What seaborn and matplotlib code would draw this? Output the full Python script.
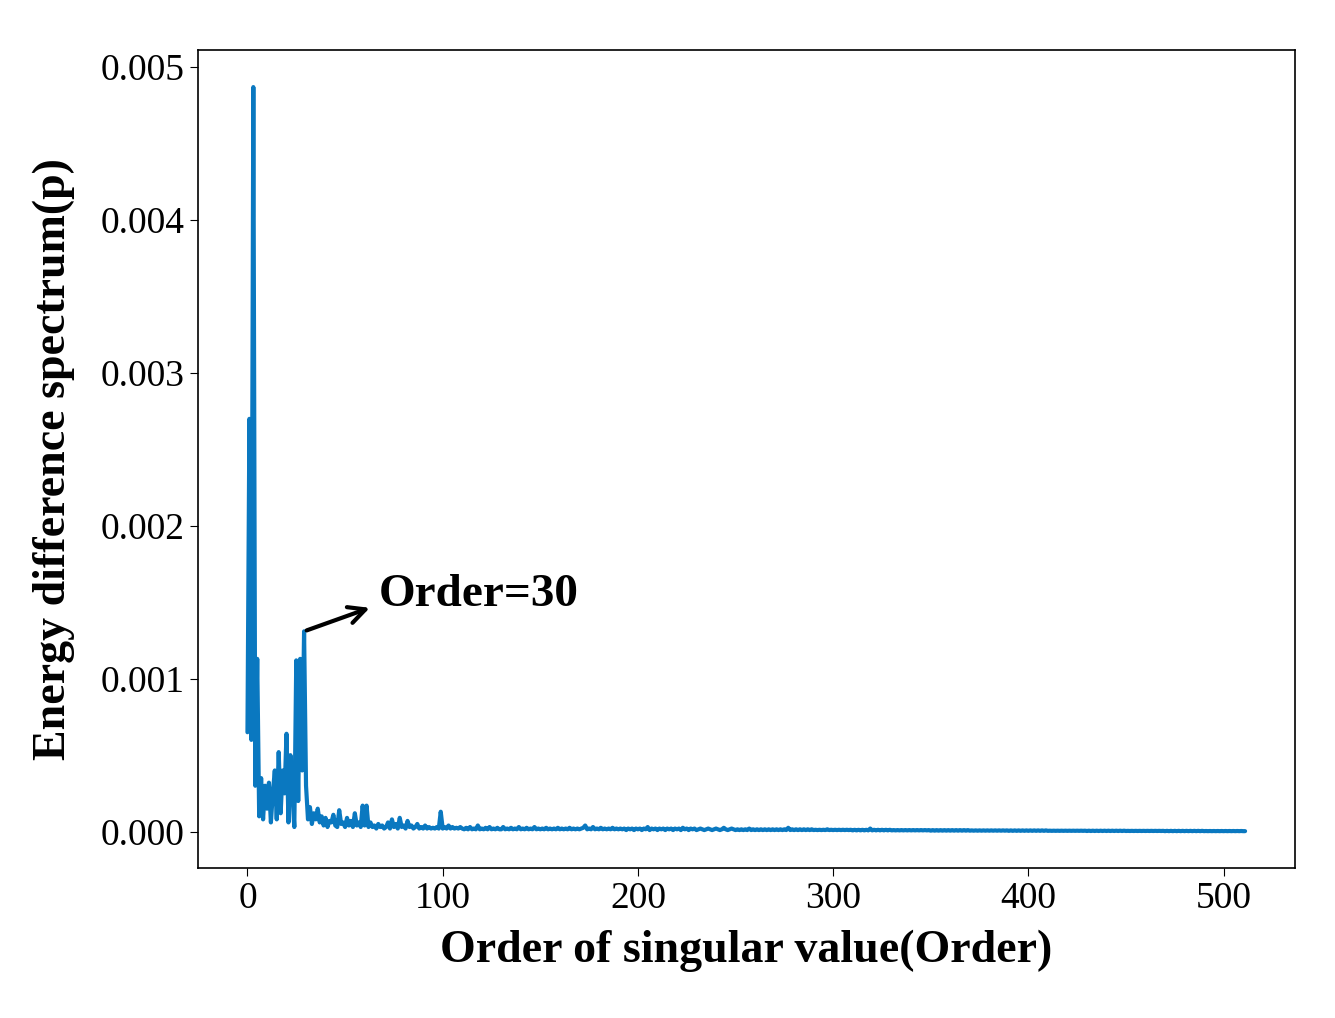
import matplotlib
matplotlib.use("Agg")
import matplotlib.pyplot as plt
import seaborn as sns
import numpy as np

sns.set_style("ticks")
plt.rcParams['font.family'] = ['Liberation Serif', 'DejaVu Serif']
plt.rcParams['text.color'] = 'black'
plt.rcParams['axes.labelcolor'] = 'black'
plt.rcParams['xtick.color'] = 'black'
plt.rcParams['ytick.color'] = 'black'
plt.rcParams['axes.edgecolor'] = 'black'

# values in units of 1e-6
head = [650, 2700, 600, 4870, 300, 1130, 100, 350, 80, 300, 150, 320, 60, 250, 400, 80, 520, 120, 400, 250,
        640, 60, 500, 250, 30, 1120, 200, 1130, 400, 1310, 300, 80, 160, 50, 120, 80, 150, 60, 100, 40,
        90, 30, 70, 60, 110, 40, 30, 140, 50, 60, 30, 90, 40, 70, 30, 120, 40, 60, 30, 170, 40, 170, 30, 60,
        30, 40, 20, 50, 30, 40, 20, 30, 60, 20, 80, 30, 50, 20, 90, 30, 40, 20, 70, 30, 40, 20, 30, 50, 20, 30,
        20, 40, 20, 30, 20, 25, 20, 30, 20, 130, 20, 30, 20, 40, 20, 30, 20, 25, 20, 30]
tail_blocks = [
    [20, 15, 25, 15, 30, 15, 20, 15, 40, 15, 20, 15, 25, 15, 30, 15, 20, 15, 25, 15],
    [15, 30, 15, 20, 15, 25, 15, 20, 15, 30, 15, 20, 15, 25, 15, 20, 15, 30, 15, 20],
    [15, 20, 15, 25, 15, 20, 15, 20, 15, 25, 15, 20, 15, 20, 15, 25, 15, 20, 15, 20],
    [15, 20, 25, 40, 15, 20, 15, 30, 15, 20, 15, 25, 15, 20, 15, 20, 15, 25, 15, 20],
    [15, 20, 15, 20, 10, 20, 15, 20, 10, 20, 15, 20, 10, 20, 15, 30, 10, 20, 15, 20],
    [10, 20, 15, 20, 10, 20, 15, 20, 10, 20, 15, 20, 10, 25, 15, 20, 10, 20, 15, 20],
    [10, 15, 20, 15, 10, 15, 20, 15, 10, 15, 20, 15, 10, 15, 25, 15, 10, 15, 20, 15],
    [10, 15, 10, 15, 10, 15, 10, 20, 10, 15, 10, 15, 10, 15, 10, 15, 10, 15, 10, 15],
    [10, 15, 10, 15, 10, 15, 10, 25, 10, 15, 10, 15, 10, 15, 10, 15, 10, 15, 10, 15],
    [10, 12, 10, 12, 10, 12, 10, 15, 10, 12, 10, 12, 10, 12, 10, 12, 10, 12, 10, 12],
    [8, 12, 8, 12, 8, 12, 8, 12, 8, 20, 8, 12, 8, 12, 8, 12, 8, 12, 8, 12],
    [8, 10, 8, 10, 8, 10, 8, 10, 8, 10, 8, 10, 8, 10, 8, 10, 8, 10, 8, 10],
    [6, 10, 6, 10, 6, 10, 6, 10, 6, 10, 6, 10, 6, 10, 6, 10, 6, 10, 6, 10],
    [6, 8, 6, 8, 6, 8, 6, 8, 6, 8, 6, 8, 6, 8, 6, 8, 6, 8, 6, 8],
    [5, 8, 5, 8, 5, 8, 5, 8, 5, 8, 5, 8, 5, 8, 5, 8, 5, 8, 5, 8],
    [5, 6, 5, 6, 5, 6, 5, 6, 5, 6, 5, 6, 5, 6, 5, 6, 5, 6, 5, 6],
    [4, 6, 4, 6, 4, 6, 4, 6, 4, 6, 4, 6, 4, 6, 4, 6, 4, 6, 4, 6],
    [4, 5, 4, 5, 4, 5, 4, 5, 4, 5, 4, 5, 4, 5, 4, 5, 4, 5, 4, 5],
    [3, 5, 3, 5, 3, 5, 3, 5, 3, 5, 3, 5, 3, 5, 3, 5, 3, 5, 3, 5],
    [3, 4, 3, 4, 3, 4, 3, 4, 3, 4, 3, 4, 3, 4, 3, 4, 3, 4, 3, 4],
    [3, 3],
]
tail = [v for b in tail_blocks for v in b]
values = np.array(head + tail) * 1e-6
orders = np.arange(len(values))

fig, ax = plt.subplots(figsize=(13.35, 10.18), dpi=100)
fig.subplots_adjust(left=0.148, right=0.970, top=0.951, bottom=0.147)
sns.lineplot(x=orders, y=values, ax=ax, color='#0a78c0', linewidth=3)

ax.set_yticks([0, 0.001, 0.002, 0.003, 0.004, 0.005])
ax.set_yticklabels(['0.000', '0.001', '0.002', '0.003', '0.004', '0.005'])
ax.set_xticks([0, 100, 200, 300, 400, 500])
ax.tick_params(labelsize=27, length=6)
ax.set_xlabel('Order of singular value(Order)', fontsize=33, fontweight='bold', labelpad=10)
ax.set_ylabel('Energy difference spectrum(p)', fontsize=33, fontweight='bold', labelpad=18)
for s in ax.spines.values():
    s.set_linewidth(1.2)

ax.annotate('', xy=(64, 0.00147), xytext=(29, values[29]),
            arrowprops=dict(arrowstyle='->', color='black', lw=3, mutation_scale=30))
ax.text(67, 0.00155, 'Order=30', fontsize=34, fontweight='bold', va='center', ha='left')

fig.savefig('out.png', dpi=100)
